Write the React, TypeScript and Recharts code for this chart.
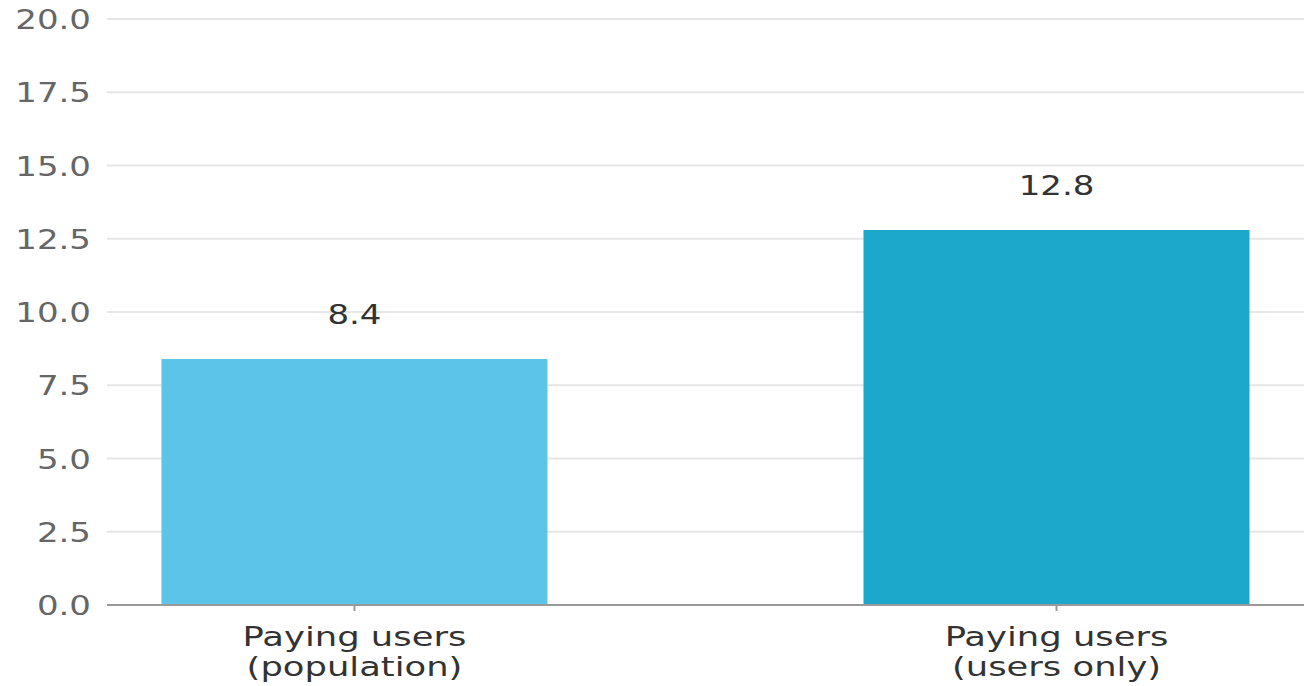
import React from "react";
import { BarChart, Bar, XAxis, YAxis, CartesianGrid, Cell, LabelList } from "recharts";

const categoryLines: string[][] = [
  ["Paying users", "(population)"],
  ["Paying users", "(users only)"],
];
const values: number[] = [8.4, 12.8];
const barColors: string[] = ["#5BC4E8", "#1BA8CB"];
const yTicks: number[] = [0, 2.5, 5, 7.5, 10, 12.5, 15, 17.5, 20];

const data = values.map((v, i) => ({ pos: i, value: v, lines: categoryLines[i] }));

const FONT = "'DejaVu Sans', sans-serif";
const SX = 1.26;
const FS = 27;

const YTick = (props: any) => {
  const { x, y, payload } = props;
  return (
    <text
      transform={`translate(${x},${y + 10}) scale(${SX},1)`}
      textAnchor="end"
      fontFamily={FONT}
      fontSize={FS}
      fill="#666666"
    >
      {payload.value.toFixed(1)}
    </text>
  );
};

const XTick = (props: any) => {
  const { x, y, payload } = props;
  const lines = categoryLines[Math.round(payload.value)] || [];
  return (
    <g>
      {lines.map((l, i) => (
        <text
          key={i}
          transform={`translate(${x},${y + 33 + i * 30}) scale(1.31,1)`}
          textAnchor="middle"
          fontFamily={FONT}
          fontSize={FS}
          fill="#333333"
        >
          {l}
        </text>
      ))}
    </g>
  );
};

const ValueLabel = (props: any) => {
  const { x, y, width, value } = props;
  return (
    <text
      transform={`translate(${x + width / 2},${y - 35}) scale(${SX},1)`}
      textAnchor="middle"
      fontFamily={FONT}
      fontSize={FS}
      fill="#333333"
    >
      {Number(value).toFixed(1)}
    </text>
  );
};

export default function App() {
  return (
    <div style={{ position: "absolute", left: 0, top: 0, width: 1312, height: 686, background: "#fff" }}>
      <BarChart
        width={1312}
        height={686}
        data={data}
        margin={{ top: 19, right: 8, bottom: 0, left: 0 }}
      >
        <CartesianGrid vertical={false} stroke="#e6e6e6" strokeWidth={2} />
        <XAxis
          dataKey="pos"
          type="number"
          domain={[-0.3525, 1.3525]}
          ticks={[0, 1]}
          allowDataOverflow
          height={81}
          stroke="#999999"
          strokeWidth={2}
          tickSize={6}
          tickMargin={2}
          tick={<XTick />}
        />
        <YAxis
          type="number"
          domain={[0, 20]}
          ticks={yTicks}
          width={107}
          axisLine={false}
          tickLine={false}
          tickSize={0}
          tickMargin={16}
          tick={<YTick />}
        />
        <Bar dataKey="value" barSize={386} isAnimationActive={false}>
          {data.map((d, i) => (
            <Cell key={i} fill={barColors[i]} />
          ))}
          <LabelList dataKey="value" content={<ValueLabel />} />
        </Bar>
      </BarChart>
    </div>
  );
}
